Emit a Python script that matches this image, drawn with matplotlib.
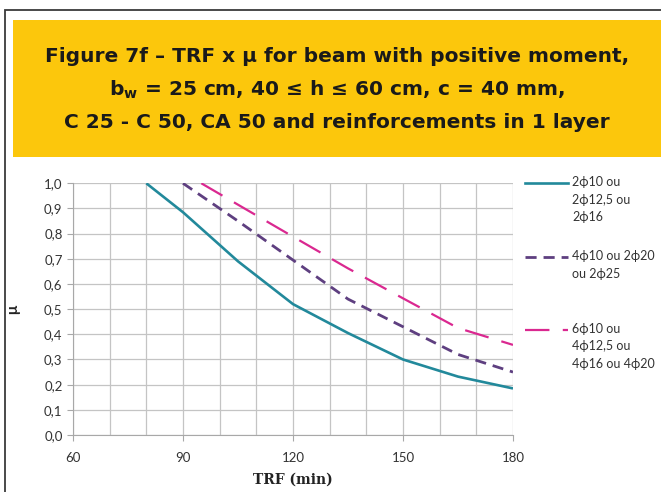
import matplotlib.pyplot as plt
from matplotlib.patches import Rectangle
from matplotlib.lines import Line2D

plt.rcParams['font.family'] = ['Lato', 'DejaVu Sans']

# dados
trf_a = [80, 90, 105, 120, 135, 150, 165, 180]
mu_a = [1.0, 0.885, 0.69, 0.52, 0.405, 0.30, 0.232, 0.185]
trf_b = [90, 105, 120, 135, 150, 165, 180]
mu_b = [1.0, 0.85, 0.695, 0.54, 0.43, 0.32, 0.25]
trf_c = [95, 105, 120, 135, 150, 165, 180]
mu_c = [1.0, 0.915, 0.788, 0.662, 0.543, 0.425, 0.358]

nomes = ["2\u03d510 ou\n2\u03d512,5 ou\n2\u03d516",
         "4\u03d510 ou 2\u03d520\nou 2\u03d525",
         "6\u03d510 ou\n4\u03d512,5 ou\n4\u03d516 ou 4\u03d520"]
cores = ["#22899B", "#5E3F80", "#DA2890"]

yticks = [i / 10 for i in range(11)]
ylabels = [f"{v:.1f}".replace(".", ",") for v in yticks]
xticks = [60, 90, 120, 150, 180]

fig = plt.figure(figsize=(6.61, 4.92), dpi=100)

# moldura e faixa amarela do titulo
fig.add_artist(Rectangle((5 / 661, -0.1), 1.2, 1 - 10 / 492 + 0.1, transform=fig.transFigure,
                         fill=False, edgecolor="#3a3a3a", linewidth=1.3))
fig.add_artist(Rectangle((13 / 661, 1 - 157 / 492), 1.0, (157 - 20) / 492, transform=fig.transFigure,
                         facecolor="#FCC70C", edgecolor="none"))

titulo = ["Figure 7f \u2013 TRF x \u03bc for beam with positive moment,",
          "b$_\\mathregular{w}$ = 25 cm, 40 \u2264 h \u2264 60 cm, c = 40 mm,",
          "C 25 - C 50, CA 50 and reinforcements in 1 layer"]
for i, t in enumerate(titulo):
    fig.text(337 / 661, 1 - (57 + 33 * i) / 492, t, ha="center", va="center",
             fontsize=14.5, fontweight="bold", color="#1a1a1a", family="DejaVu Sans")

ax = fig.add_axes([73 / 661, 1 - 435 / 492, 440 / 661, 251.7 / 492])
ax.plot(trf_a, mu_a, color=cores[0], linewidth=1.9, solid_capstyle="butt")
ax.plot(trf_b, mu_b, color=cores[1], linewidth=2.0, dashes=(4, 2.5))
ax.plot(trf_c, mu_c, color=cores[2], linewidth=1.6, dashes=(11, 6))

ax.set_xlim(60, 180)
ax.set_ylim(0, 1.0)
ax.set_xticks(xticks)
ax.set_xticks(range(60, 181, 10), minor=True)
ax.set_yticks(yticks)
ax.set_yticklabels(ylabels)
ax.grid(True, which="both", color="#c4c4c4", linewidth=0.9)
ax.set_axisbelow(True)
for s in ["top", "right"]:
    ax.spines[s].set_visible(False)
for s in ["left", "bottom"]:
    ax.spines[s].set_color("#a8a8a8")
ax.tick_params(which="major", length=4, color="#a8a8a8", labelsize=9.5, labelcolor="#333333")
ax.tick_params(which="minor", length=0)
ax.tick_params(axis="x", pad=8)
ax.set_xlabel("TRF (min)", family="DejaVu Serif", fontweight="bold", fontsize=10, color="#222222")
ax.xaxis.set_label_coords(0.5, -0.15)
ax.set_ylabel("\u03bc", fontweight="bold", fontsize=11, color="#222222")
ax.yaxis.set_label_coords(-0.12, 0.5)

# legenda manual
leg_y = [183, 257, 330]
estilos = [dict(linewidth=1.9), dict(linewidth=2.0, dashes=(4, 2.5)), dict(linewidth=1.6, dashes=(11, 6))]
for nome, cor, y, est in zip(nomes, cores, leg_y, estilos):
    yf = 1 - y / 492
    fig.add_artist(Line2D([525 / 661, 568 / 661], [yf, yf], color=cor, transform=fig.transFigure, **est))
    fig.text(572 / 661, yf + 7 / 492, nome, ha="left", va="top", fontsize=9,
             color="#333333", linespacing=1.55)

fig.savefig("out.png", dpi=100)
